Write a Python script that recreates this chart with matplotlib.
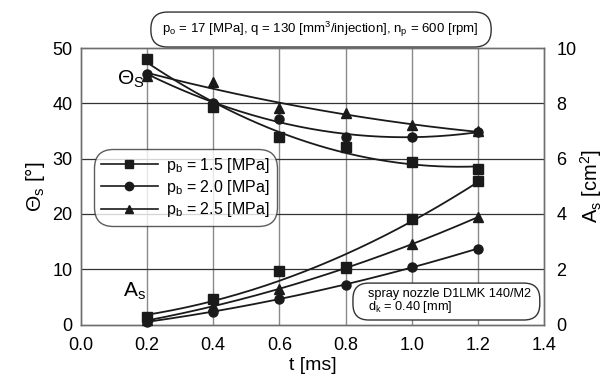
import numpy as np
import matplotlib
matplotlib.use("Agg")
import matplotlib.pyplot as plt
from matplotlib.patches import FancyBboxPatch

plt.rcParams['font.family'] = ['Liberation Sans', 'DejaVu Sans']
plt.rcParams['mathtext.fontset'] = 'custom'
plt.rcParams['mathtext.rm'] = 'Liberation Sans'
plt.rcParams['mathtext.it'] = 'Liberation Sans:italic'

t = [0.2, 0.4, 0.6, 0.8, 1.0, 1.2]
series_labels = ['1.5', '2.0', '2.5']
markers = ['s', 'o', '^']

theta_15 = [48.0, 39.4, 34.0, 32.1, 29.4, 28.1]
theta_20 = [45.3, 40.0, 37.1, 34.0, 34.0, 34.8]
theta_25 = [45.0, 43.9, 39.2, 38.2, 36.0, 35.0]

as_15 = [0.26, 0.91, 1.95, 2.08, 3.82, 5.20]
as_20 = [0.10, 0.47, 0.93, 1.43, 2.09, 2.74]
as_25 = [0.15, 0.67, 1.28, 2.05, 2.91, 3.88]

xticks = [0.0, 0.2, 0.4, 0.6, 0.8, 1.0, 1.2, 1.4]
yticks_left = [0, 10, 20, 30, 40, 50]
yticks_right = [0, 2, 4, 6, 8, 10]

fig = plt.figure(figsize=(6.07, 3.78), dpi=100)
ax = fig.add_axes([0.1334, 0.1413, 0.7627, 0.7317])
ax2 = ax.twinx()

ax.set_xlim(0, 1.4)
ax.set_ylim(0, 50)
ax2.set_ylim(0, 10)

# grid
for x in xticks[1:-1]:
    ax.axvline(x, color='#8a8a8a', lw=1.0, zorder=0)
for y in yticks_left[1:-1]:
    ax.axhline(y, color='#333333', lw=0.9, zorder=0)

tt = np.linspace(0.2, 1.2, 200)
for vals, m in zip([theta_15, theta_20, theta_25], markers):
    c = np.polyfit(t, vals, 2)
    ax.plot(tt, np.polyval(c, tt), color='#1a1a1a', lw=1.3, zorder=3)
    ax.plot(t, vals, ls='none', marker=m, color='#1a1a1a', ms=6.5, zorder=4, clip_on=False)

for vals, m in zip([as_15, as_20, as_25], markers):
    c = np.polyfit(t, vals, 2)
    ax2.plot(tt, np.polyval(c, tt), color='#1a1a1a', lw=1.3, zorder=3)
    ax2.plot(t, vals, ls='none', marker=m, color='#1a1a1a', ms=6.5, zorder=4, clip_on=False)

ax.set_xticks(xticks)
ax.set_xticklabels([f'{v:.1f}' for v in xticks])
ax.set_yticks(yticks_left)
ax2.set_yticks(yticks_right)
ax.tick_params(axis='x', length=0, labelsize=13, pad=9)
ax.tick_params(axis='y', length=0, labelsize=13, pad=6)
ax2.tick_params(axis='y', length=0, labelsize=13, pad=9)
for a in (ax, ax2):
    for s in a.spines.values():
        s.set_color('#6e6e6e')
        s.set_linewidth(1.0)

ax.set_xlabel('t [ms]', fontsize=14, labelpad=2)
ax.set_ylabel('Θ$_\\mathrm{s}$ [°]', fontsize=15, labelpad=4)
ax2.set_ylabel('A$_\\mathrm{s}$ [cm$^\\mathrm{2}$]', fontsize=14.5, labelpad=1)

ax.text(0.109, 43.3, 'Θ$_\\mathrm{S}$', fontsize=15, ha='left', va='baseline', zorder=5)
ax.text(0.127, 5.0, 'A$_\\mathrm{s}$', fontsize=15, ha='left', va='baseline', zorder=5)

# legend
leg_handles = []
for lab, m in zip(series_labels, markers):
    h, = ax.plot([], [], color='#1a1a1a', lw=1.2, marker=m, ms=6)
    leg_handles.append(h)
leg = ax.legend(leg_handles, [f'p$_\\mathrm{{b}}$ = {s} [MPa]' for s in series_labels],
                loc='upper left', bbox_to_anchor=(0.034, 0.625), fontsize=11.5,
                frameon=True, fancybox=True, handlelength=3.6, handletextpad=0.5,
                borderpad=0.25, labelspacing=0.2, borderaxespad=0)
leg.get_frame().set_edgecolor('#333333')
leg.get_frame().set_linewidth(1.0)
leg.get_frame().set_boxstyle('round,pad=0.2,rounding_size=1.2')
leg.set_zorder(6)

aspect = (0.7627 * 607) / (0.7317 * 378)

# top condition box
top_box = FancyBboxPatch((0.151, 1.0036), 0.886 - 0.151, 1.130 - 1.0036,
                         boxstyle='round,pad=0,rounding_size=0.036', mutation_aspect=aspect,
                         transform=ax.transAxes, fc='white', ec='#333333', lw=1.0,
                         clip_on=False, zorder=7)
ax.add_patch(top_box)
ax.text(0.518, 1.066, 'p$_\\mathrm{o}$ = 17 [MPa], q = 130 [mm$^\\mathrm{3}$/injection], n$_\\mathrm{p}$ = 600 [rpm]',
        transform=ax.transAxes, ha='center', va='center', fontsize=9.5, zorder=8)

# nozzle box
nz_box = FancyBboxPatch((0.5875, 0.0166), 0.991 - 0.5875, 0.150 - 0.0166,
                        boxstyle='round,pad=0,rounding_size=0.034', mutation_aspect=aspect,
                        transform=ax.transAxes, fc='white', ec='#333333', lw=1.0,
                        clip_on=False, zorder=7)
ax.add_patch(nz_box)
ax.text(0.620, 0.0835, 'spray nozzle D1LMK 140/M2\nd$_\\mathrm{k}$ = 0.40 [mm]',
        transform=ax.transAxes, ha='left', va='center', fontsize=9.2, linespacing=0.95, zorder=8)

fig.savefig('out.png', dpi=100)
